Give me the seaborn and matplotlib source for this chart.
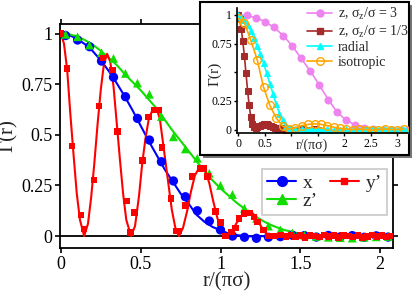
import numpy as np
import pandas as pd
import matplotlib
matplotlib.use("Agg")
import matplotlib.pyplot as plt
from matplotlib.patches import Rectangle
from matplotlib.lines import Line2D
import seaborn as sns

# ---------------- data: main panel ----------------
r_grid = [0.03, 0.105, 0.18, 0.255, 0.33, 0.405, 0.48, 0.555, 0.63, 0.705, 0.78, 0.855, 0.93, 1.0,
          1.075, 1.15, 1.225, 1.30, 1.375, 1.45, 1.525, 1.6, 1.675, 1.75, 1.825, 1.9, 1.975, 2.05]
x_pts = [0.99, 0.968, 0.935, 0.864, 0.784, 0.688, 0.581, 0.474, 0.367, 0.272, 0.194, 0.125, 0.074, 0.03,
         0.0, -0.006, -0.011, -0.006, -0.003, 0.004, 0.002, -0.005, 0.003, -0.004, 0.002, -0.006, 0.001, -0.005]
z_pts = [0.996, 0.984, 0.943, 0.905, 0.877, 0.803, 0.755, 0.70, 0.59, 0.49, 0.43, 0.384, 0.31, 0.25,
         0.205, 0.137, 0.087, 0.049, 0.03, 0.015, 0.005, -0.002, -0.006, -0.008, -0.01, -0.006, -0.004, -0.002]

y_r = [0.0, 0.04, 0.069, 0.125, 0.146, 0.208, 0.24, 0.264, 0.323, 0.354, 0.4125, 0.4375, 0.4625,
       0.51, 0.548, 0.583, 0.615, 0.635, 0.69, 0.72, 0.74, 0.78, 0.82, 0.875, 0.896, 0.917, 0.97,
       1.0, 1.03, 1.07, 1.094, 1.115, 1.146, 1.18, 1.21, 1.23, 1.27, 1.30, 1.34,
       1.38, 1.41, 1.44, 1.47, 1.50, 1.53, 1.56, 1.59, 1.62, 1.65, 1.68, 1.71, 1.74, 1.77, 1.80,
       1.83, 1.86, 1.89, 1.92, 1.95, 1.98, 2.01, 2.04, 2.07]
y_pts = [1.0, 0.828, 0.444, 0.104, 0.035, 0.277, 0.642, 0.88, 0.82, 0.515, 0.173, 0.018, 0.117,
         0.372, 0.589, 0.622, 0.622, 0.438, 0.186, 0.025, 0.025, 0.15, 0.293, 0.334, 0.334, 0.293, 0.12,
         0.066, 0.0, 0.02, 0.04, 0.087, 0.112, 0.115, 0.095, 0.07, 0.03, 0.0, 0.0,
         0.004, -0.003, 0.005, -0.004, 0.002, -0.006, 0.003, 0.0, -0.005, 0.004, -0.002, 0.003, -0.006, 0.002, 0.0,
         -0.004, 0.003, -0.006, -0.002, 0.004, -0.003, 0.002, -0.005, 0.001]

# fitted curves
x_fit_r = [0, 0.05, 0.1, 0.15, 0.2, 0.25, 0.3, 0.35, 0.4, 0.45, 0.5, 0.55, 0.6, 0.65, 0.7, 0.75, 0.8,
           0.85, 0.9, 0.95, 1.0, 1.05, 1.1, 1.15, 1.2, 1.3, 1.5, 1.8, 2.08]
x_fit = [1.0, 0.993, 0.975, 0.948, 0.913, 0.868, 0.815, 0.755, 0.69, 0.62, 0.545, 0.47, 0.40, 0.33,
         0.27, 0.21, 0.16, 0.105, 0.07, 0.045, 0.028, 0.013, 0.005, 0.0, -0.002, 0.0, 0.0, 0.0, 0.0]
z_fit_r = [0, 0.05, 0.1, 0.15, 0.2, 0.25, 0.3, 0.35, 0.4, 0.45, 0.5, 0.55, 0.6, 0.65, 0.7, 0.75, 0.8,
           0.85, 0.9, 0.95, 1.0, 1.05, 1.1, 1.15, 1.2, 1.25, 1.3, 1.35, 1.4, 1.45, 1.5, 1.6, 1.7, 2.08]
z_fit = [1.0, 0.997, 0.986, 0.968, 0.945, 0.915, 0.88, 0.845, 0.80, 0.76, 0.72, 0.675, 0.63, 0.575,
         0.52, 0.47, 0.42, 0.37, 0.32, 0.275, 0.235, 0.20, 0.165, 0.135, 0.105, 0.082, 0.06, 0.044,
         0.03, 0.02, 0.012, 0.004, 0.0, 0.0]
y_fit_r = [0.0, 0.02, 0.04, 0.06, 0.08, 0.10, 0.12, 0.146,
           0.17, 0.19, 0.21, 0.23, 0.25, 0.27, 0.29, 0.31, 0.33, 0.35, 0.37, 0.39, 0.41, 0.44,
           0.465, 0.49, 0.51, 0.53, 0.55, 0.575, 0.598, 0.62, 0.64, 0.67, 0.695, 0.72, 0.74,
           0.765, 0.79, 0.815, 0.84, 0.865, 0.885, 0.905, 0.93, 0.955, 0.98, 1.005, 1.03,
           1.06, 1.09, 1.12, 1.15, 1.177, 1.205, 1.235, 1.26, 1.285, 1.31, 1.5, 2.08]
y_fit = [1.0, 0.95, 0.82, 0.60, 0.40, 0.21, 0.08, 0.0,
         0.06, 0.19, 0.36, 0.55, 0.72, 0.85, 0.90, 0.86, 0.74, 0.56, 0.38, 0.21, 0.08, 0.0,
         0.05, 0.2, 0.36, 0.48, 0.575, 0.625, 0.632, 0.58, 0.46, 0.28, 0.13, 0.03, 0.0,
         0.04, 0.12, 0.22, 0.30, 0.335, 0.342, 0.325, 0.26, 0.17, 0.09, 0.03, 0.0,
         0.015, 0.05, 0.09, 0.118, 0.125, 0.11, 0.075, 0.04, 0.012, 0.0, 0.0, 0.0]

# ---------------- data: inset ----------------
v_r = [0, 0.17, 0.34, 0.51, 0.68, 0.85, 1.02, 1.19, 1.36, 1.53, 1.70, 1.87, 2.04, 2.21, 2.38, 2.55,
       2.72, 2.89, 3.06, 3.2]
v_g = [1.0, 0.995, 0.975, 0.94, 0.89, 0.82, 0.73, 0.62, 0.51, 0.39, 0.26, 0.15, 0.08, 0.04, 0.015,
       0.005, 0.0, -0.003, 0.0, 0.0]
b_r = [0.0, 0.03, 0.06, 0.09, 0.12, 0.15, 0.18, 0.21, 0.24, 0.27, 0.30, 0.33, 0.36, 0.39, 0.42, 0.45,
       0.48, 0.51, 0.54, 0.57, 0.60, 0.63, 0.66, 0.69, 0.72, 0.75, 0.78, 0.81, 0.84, 0.87, 0.90,
       0.96, 1.02, 1.08, 1.14, 1.20, 1.26, 1.32, 1.38, 1.44, 1.50]
b_g = [1.0, 0.96, 0.88, 0.77, 0.64, 0.49, 0.34, 0.21, 0.11, 0.05, 0.02, 0.01, 0.02, 0.03, 0.035, 0.04,
       0.045, 0.045, 0.045, 0.04, 0.035, 0.03, 0.02, 0.015, 0.01, 0.005, 0.01, 0.015, 0.01, 0.005, 0.0,
       0.005, 0.0, -0.003, 0.0, 0.004, 0.0, -0.002, 0.0, 0.003, 0.0]
c_r = [0.0, 0.06, 0.12, 0.18, 0.24, 0.30, 0.36, 0.42, 0.48, 0.54, 0.60, 0.66, 0.72, 0.78, 0.84, 0.90,
       0.96, 1.02, 1.08, 1.14, 1.20, 1.26, 1.32, 1.38, 1.44, 1.50, 1.56, 1.62, 1.68, 1.74, 1.80, 1.86,
       1.92, 1.98, 2.04, 2.10, 2.16, 2.22, 2.28, 2.34, 2.40, 2.46, 2.52, 2.58, 2.64, 2.70, 2.76, 2.82,
       2.88, 2.94, 3.00, 3.06, 3.12, 3.18]
c_g = [1.0, 0.985, 0.955, 0.91, 0.86, 0.80, 0.73, 0.66, 0.58, 0.49, 0.40, 0.31, 0.22, 0.14, 0.08,
       0.03, 0.01, 0.0, 0.003, -0.002, 0.004, 0.0, -0.003, 0.002, 0.0, 0.004, -0.002, 0.0, 0.003, -0.003,
       0.0, 0.002, -0.002, 0.0, 0.003, 0.0, -0.003, 0.002, 0.0, -0.002, 0.003, 0.0, -0.002, 0.002, 0.0,
       -0.003, 0.002, 0.0, 0.003, -0.002, 0.0, 0.002, -0.002, 0.0]
o_r = [0.0, 0.12, 0.24, 0.36, 0.48, 0.60, 0.72, 0.84, 0.96, 1.08, 1.20, 1.32, 1.44, 1.56, 1.68, 1.80,
       1.92, 2.04, 2.16, 2.28, 2.40, 2.52, 2.64, 2.76, 2.88, 3.00, 3.12]
o_g = [0.97, 0.93, 0.78, 0.61, 0.37, 0.21, 0.10, 0.03, 0.005, 0.015, 0.035, 0.045, 0.05, 0.045, 0.035,
       0.02, 0.01, 0.005, 0.0, 0.005, 0.0, -0.005, 0.0, 0.005, 0.0, 0.0, 0.005]

main_xticks = [0, 0.5, 1, 1.5, 2]
main_xticklabels = ["0", "0.5", "1", "1.5", "2"]
main_yticks = [0, 0.25, 0.5, 0.75, 1]
main_yticklabels = ["0", "0.25", "0.5", "0.75", "1"]
in_xticks = [0, 0.5, 1, 1.5, 2, 2.5, 3]
in_xticklabels = ["0", "0.5", "", "", "2", "2.5", "3"]
in_yticks = [0, 0.25, 0.5, 0.75, 1]
in_yticklabels = ["0", "0.25", "", "0.75", "1"]

# ---------------- style ----------------
sns.set_style("ticks")
plt.rcParams["font.family"] = ["Liberation Serif", "DejaVu Serif"]
plt.rcParams["mathtext.fontset"] = "custom"
plt.rcParams["mathtext.rm"] = "Liberation Serif"
plt.rcParams["mathtext.it"] = "Liberation Serif:italic"

BLUE = "#0000ff"
RED = "#ff0000"
GREEN = "#11dd00"
VIOLET = "#ee82ee"
BROWN = "#a52a2a"
CYAN = "#00ffff"
ORANGE = "#ffa500"

fig = plt.figure(figsize=(4.15, 2.91), dpi=100)
W, H = 415.0, 291.0
ax = fig.add_axes([60 / W, 1 - 248 / H, 333 / W, 224 / H])

# fit lines
sns.lineplot(x=x_fit_r, y=x_fit, ax=ax, color=BLUE, lw=1.5, sort=False, estimator=None)
sns.lineplot(x=z_fit_r, y=z_fit, ax=ax, color=GREEN, lw=1.5, sort=False, estimator=None)
sns.lineplot(x=y_fit_r, y=y_fit, ax=ax, color=RED, lw=1.5, sort=False, estimator=None)
# markers
sns.scatterplot(x=r_grid, y=x_pts, ax=ax, color=BLUE, marker="o", s=45, edgecolor="none", zorder=3)
sns.scatterplot(x=r_grid, y=z_pts, ax=ax, color=GREEN, marker="^", s=40, edgecolor="none", zorder=3)
sns.scatterplot(x=y_r, y=y_pts, ax=ax, color=RED, marker="s", s=22, edgecolor="none", zorder=4)

ax.axhline(0, color="black", lw=1.3, zorder=1)
ax.set_xlim(-0.005, 2.08)
ax.set_ylim(-0.059, 1.047)
ax.set_xticks(main_xticks)
ax.set_xticklabels(main_xticklabels)
ax.set_yticks(main_yticks)
ax.set_yticklabels(main_yticklabels)
ax.tick_params(direction="out", length=3.5, width=1.2, labelsize=13, pad=2,
               top=True, right=True, labeltop=False, labelright=False, colors="black")
for s in ax.spines.values():
    s.set_linewidth(1.3)
    s.set_color("black")
ax.set_xlabel("r/(πσ)", fontsize=15, labelpad=0)
ax.set_ylabel("Γ(r)", fontsize=15, labelpad=2)

# order so that the two-column legend reads: x  y' / z'
handles = [Line2D([], [], color=BLUE, marker="o", ms=7, lw=1.5, label="x"),
           Line2D([], [], color=GREEN, marker="^", ms=6.5, lw=1.5, label="z’"),
           Line2D([], [], color=RED, marker="s", ms=5, lw=1.5, label="y’")]
leg = ax.legend(handles=handles, ncol=2, loc="lower left", bbox_to_anchor=(0.607, 0.147),
                borderaxespad=0, fontsize=14, frameon=True, fancybox=False, labelspacing=0.05,
                handlelength=1.5, handletextpad=0.35, columnspacing=0.6, borderpad=0.25)
leg.get_frame().set_edgecolor("#bbbbbb")
leg.get_frame().set_linewidth(1.2)

# ---------------- inset box ----------------
bx0, by0, bx1, by1 = 200, 2, 409, 155
shadow = Rectangle(((bx0 + 3) / W, 1 - (by1 + 3) / H), (bx1 - bx0) / W, (by1 - by0) / H,
                   transform=fig.transFigure, facecolor="#777777", edgecolor="none", zorder=1)
box = Rectangle((bx0 / W, 1 - by1 / H), (bx1 - bx0) / W, (by1 - by0) / H,
                transform=fig.transFigure, facecolor="white", edgecolor="black", lw=1.5, zorder=1.1)
fig.patches.extend([shadow, box])

axi = fig.add_axes([236.7 / W, 1 - 133 / H, 171.3 / W, 125 / H])
axi.set_zorder(3)
axi.patch.set_alpha(0)
sns.lineplot(x=v_r, y=v_g, ax=axi, color=VIOLET, lw=1.2, marker="o", markersize=5,
             markeredgecolor=VIOLET, sort=False, estimator=None)
sns.lineplot(x=b_r, y=b_g, ax=axi, color=BROWN, lw=1.2, marker="s", markersize=4,
             markeredgecolor=BROWN, sort=False, estimator=None)
sns.lineplot(x=c_r, y=c_g, ax=axi, color=CYAN, lw=1.2, marker="^", markersize=4.5,
             markeredgecolor=CYAN, sort=False, estimator=None)
sns.lineplot(x=o_r, y=o_g, ax=axi, color=ORANGE, lw=1.2, marker="o", markersize=5.5,
             markerfacecolor="none", markeredgecolor=ORANGE, markeredgewidth=1.0,
             sort=False, estimator=None)
axi.set_xlim(-0.025, 3.2)
axi.set_ylim(-0.03, 1.06)
axi.set_xticks(in_xticks)
axi.set_xticklabels(in_xticklabels)
axi.set_yticks(in_yticks)
axi.set_yticklabels(in_yticklabels)
axi.tick_params(direction="out", length=2.5, width=1.0, labelsize=8.5, pad=1, colors="black")
axi.spines["top"].set_visible(False)
axi.spines["right"].set_visible(False)
for s in ("left", "bottom"):
    axi.spines[s].set_linewidth(1.2)
    axi.spines[s].set_color("black")
axi.set_xlabel("")
axi.set_ylabel("")
axi.text(0.44, -0.098, "r/(πσ)", transform=axi.transAxes, ha="center", va="center", fontsize=10)
axi.text(-0.125, 0.47, "Γ(r)", transform=axi.transAxes, ha="center", va="center",
         rotation=90, fontsize=11)

ihandles = [Line2D([], [], color=VIOLET, marker="o", ms=5, lw=1.2, label=r"z, σ$_\mathrm{z}$/σ = 3"),
            Line2D([], [], color=BROWN, marker="s", ms=4, lw=1.2, label=r"z, σ$_\mathrm{z}$/σ = 1/3"),
            Line2D([], [], color=CYAN, marker="^", ms=4.5, lw=1.2, label="radial"),
            Line2D([], [], color=ORANGE, marker="o", ms=5.5, lw=1.2, markerfacecolor="none",
                   label="isotropic")]
ileg = axi.legend(handles=ihandles, loc="upper right", bbox_to_anchor=(1.01, 1.03),
                  borderaxespad=0, fontsize=10, frameon=False, labelspacing=0.12,
                  handlelength=1.8, handletextpad=0.4, borderpad=0.1)

fig.savefig("out.png", dpi=100)
